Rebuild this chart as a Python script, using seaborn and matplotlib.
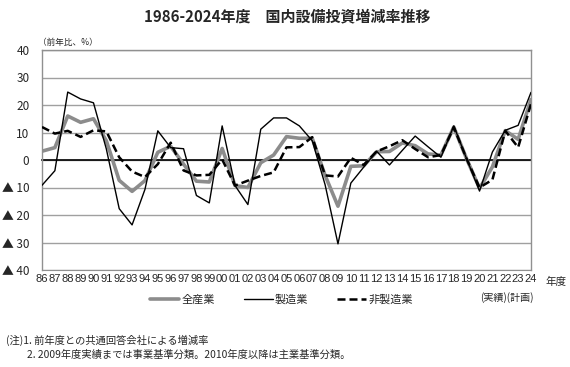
import numpy as np
import pandas as pd
import matplotlib
matplotlib.use("Agg")
import matplotlib.pyplot as plt
import seaborn as sns

years = ["86", "87", "88", "89", "90", "91", "92", "93", "94", "95", "96", "97", "98", "99",
         "00", "01", "02", "03", "04", "05", "06", "07", "08", "09", "10", "11", "12", "13",
         "14", "15", "16", "17", "18", "19", "20", "21", "22", "23", "24"]
all_ind = [3.2, 4.5, 16.0, 13.7, 15.0, 7.0, -7.4, -11.4, -7.5, 2.8, 5.0, -1.5, -7.7, -8.0,
           4.2, -9.3, -10.0, -1.0, 1.8, 8.5, 7.9, 7.9, -5.6, -16.8, -2.3, -2.1, 3.0, 3.1,
           6.2, 5.2, 2.2, 1.8, 12.0, 0.4, -10.3, -2.5, 10.7, 7.5, 22.0]
manuf = [-9.2, -3.9, 24.7, 22.2, 20.8, 4.0, -17.7, -23.6, -10.7, 10.6, 4.5, 4.1, -12.9, -15.6,
         12.4, -9.3, -16.2, 11.2, 15.3, 15.3, 12.4, 7.0, -9.0, -30.5, -8.4, -2.6, 3.2, -1.8,
         3.5, 8.7, 4.8, 1.0, 12.4, 0.4, -11.3, 2.9, 10.8, 12.6, 24.6]
nonmanuf = [12.0, 9.6, 10.6, 8.4, 10.8, 10.4, 1.0, -4.2, -6.2, -1.5, 6.3, -3.8, -5.6, -5.4,
            0.2, -9.3, -7.5, -5.8, -4.5, 4.6, 4.7, 8.3, -5.6, -6.0, 0.8, -1.8, 3.1, 5.0,
            7.2, 4.0, 1.0, 1.8, 11.9, 0.4, -10.0, -7.2, 10.6, 4.6, 20.4]
series_names = ["全産業", "製造業", "非製造業"]
yticks = [40, 30, 20, 10, 0, -10, -20, -30, -40]
ytick_labels = ["40", "30", "20", "10", "0", "▲ 10", "▲ 20", "▲ 30", "▲ 40"]

sns.set_style("white")
plt.rcParams["font.family"] = ["Noto Sans CJK JP", "DejaVu Sans"]
num_font = ["Liberation Sans", "Noto Sans CJK JP", "DejaVu Sans"]

df = pd.DataFrame({"pos": np.arange(len(years)), "all": all_ind, "man": manuf, "non": nonmanuf})

fig = plt.figure(figsize=(5.70, 3.67), dpi=100)
ax = fig.add_axes([42 / 570, 1 - 270 / 367, (531 - 42) / 570, 220 / 367])

ax.set_ylim(-40, 40)
ax.set_xlim(0, len(years) - 1)
for v in yticks:
    ax.axhline(v, color="#a0a0a0", lw=1.0, zorder=0)

sns.lineplot(data=df, x="pos", y="all", ax=ax, color="#8c8c8c", lw=2.6, label=series_names[0], zorder=3)
sns.lineplot(data=df, x="pos", y="man", ax=ax, color="black", lw=1.0, label=series_names[1], zorder=4)
sns.lineplot(data=df, x="pos", y="non", ax=ax, color="black", lw=1.8, label=series_names[2],
             zorder=5, dashes=False)
ax.lines[-1].set_dashes([3.2, 1.6])

# zero line acting as category axis
ax.spines["bottom"].set_position(("data", 0))
ax.spines["bottom"].set_color("black")
ax.spines["bottom"].set_linewidth(1.2)
ax.spines["bottom"].set_zorder(2)
ax.set_xticks(df["pos"])
ax.tick_params(axis="x", direction="in", length=3, width=1, color="black", labelbottom=False)
for s in ["left", "right", "top"]:
    ax.spines[s].set_color("#909090")
    ax.spines[s].set_linewidth(1.0)

sec = ax.secondary_xaxis("bottom")
sec.set_xticks(df["pos"])
sec.set_xticklabels(years, fontsize=8, family=num_font)
sec.tick_params(length=0, pad=3)
sec.spines["bottom"].set_color("#909090")

ax.set_yticks(yticks)
ax.set_yticklabels(ytick_labels, fontsize=8.5)
ax.tick_params(axis="y", length=0, pad=9)
ax.set_xlabel("")
ax.set_ylabel("")

leg = ax.legend(loc="center", bbox_to_anchor=(0.49, -0.135), ncol=3, frameon=False,
                fontsize=8, handlelength=2.6, handletextpad=0.2, columnspacing=2.6)

fig.text(287 / 570, 1 - 16 / 367, "1986-2024年度　国内設備投資増減率推移", ha="center", va="center",
         fontsize=10.8, fontweight="bold")
fig.text(38 / 570, 1 - 42 / 367, "（前年比、%）", ha="left", va="center", fontsize=6.2)
fig.text(545 / 570, 1 - 282 / 367, "年度", ha="left", va="center", fontsize=7.6)
fig.text(507 / 570, 1 - 298 / 367, "(実績)(計画)", ha="center", va="center", fontsize=7.2)
fig.text(6 / 570, 1 - 340 / 367, "(注)1. 前年度との共通回答会社による増減率", ha="left", va="center", fontsize=7.4)
fig.text(27 / 570, 1 - 355 / 367, "2. 2009年度実績までは事業基準分類。2010年度以降は主業基準分類。",
         ha="left", va="center", fontsize=7.4)

fig.savefig("out.png", dpi=100, facecolor="white")
